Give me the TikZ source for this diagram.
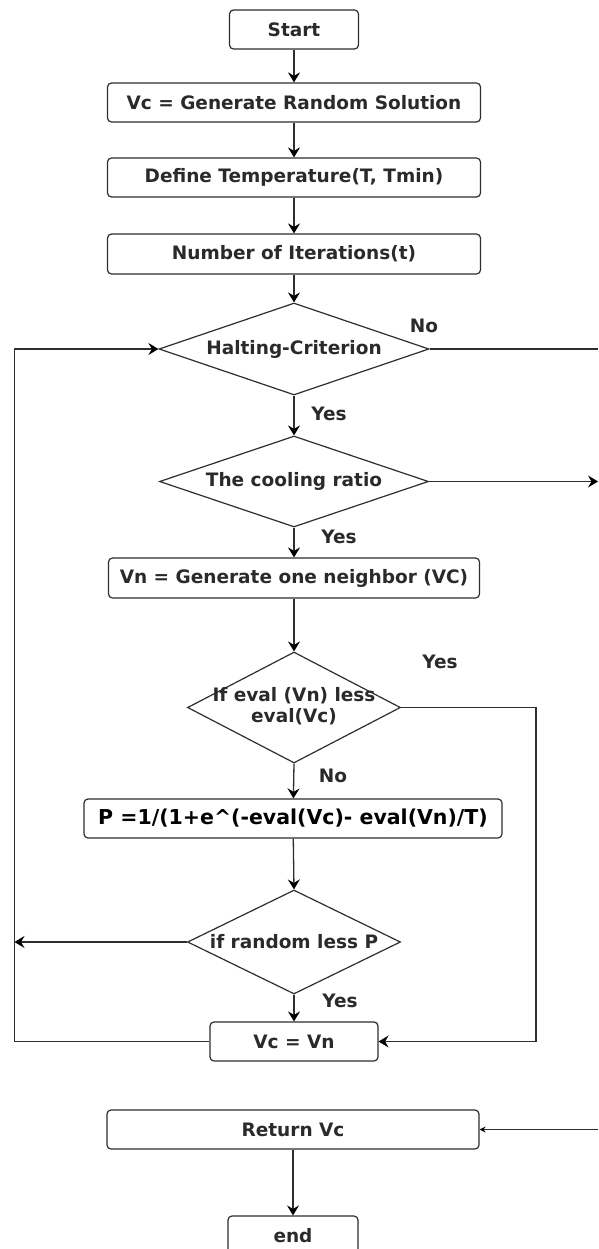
\documentclass[tikz,border=0pt]{standalone}
\usepackage{fontspec}
\setmainfont{DejaVu Sans}
\usetikzlibrary{shapes.geometric,arrows.meta}
\definecolor{linec}{HTML}{2E2E2E}
\definecolor{txt}{HTML}{2A2A2A}
\begin{document}
\begin{tikzpicture}[x=1pt,y=-1pt,
  every node/.style={inner sep=0pt},
  procbox/.style={draw=linec, line width=1.2pt, rounded corners=4pt, fill=white,
    minimum height=39pt, text=txt, font=\fontsize{18.5}{21}\selectfont\bfseries},
  decision/.style={diamond, draw=linec, line width=1.2pt, fill=white},
  dtext/.style={text=txt, font=\fontsize{18.5}{21}\selectfont\bfseries, align=center},
  elabel/.style={text=txt, font=\fontsize{18.5}{21}\selectfont\bfseries},
  flow/.style={draw=linec, line width=1.3pt, -{Stealth[length=10pt,width=12pt,inset=3.5pt,color=black]}},
  plain/.style={draw=linec, line width=1.3pt}
]
\useasboundingbox (0,0) rectangle (598,1249);
\fill[white] (0,0) rectangle (598,1249);

% process boxes
\node[procbox, minimum width=129pt] (start) at (294,29.5) {Start};
\node[procbox, minimum width=373pt] (vc) at (294,102.5) {Vc = Generate Random Solution};
\node[procbox, minimum width=373pt] (def) at (294,177.5) {Define Temperature(T, Tmin)};
\node[procbox, minimum width=373pt, minimum height=40pt] (num) at (294,254) {Number of Iterations(t)};

% decisions
\node[decision, minimum width=270pt, minimum height=92pt] (halt) at (294,349) {};
\node[dtext] (haltt) at (halt.center) {Halting-Criterion};
\node[decision, minimum width=269pt, minimum height=91pt] (cool) at (294,481.5) {};
\node[dtext] (coolt) at (cool.center) {The cooling ratio};

\node[procbox, minimum width=371pt, minimum height=40pt] (vn) at (294,578) {Vn = Generate one neighbor (VC)};

\node[decision, minimum width=213pt, minimum height=111pt] (eval) at (294,707.5) {};
\node[dtext] (evalt) at (294,706) {If eval (Vn) less\\eval(Vc)};

\node[procbox, minimum width=418pt, text=black, font=\fontsize{20.5}{23}\selectfont\bfseries] (p) at (293,818.5) {P =1/(1+e\^{}(-eval(Vc)- eval(Vn)/T)};

\node[decision, minimum width=213pt, minimum height=104pt] (rand) at (294,942) {};
\node[dtext] (randt) at (rand.center) {if random less P};

\node[procbox, minimum width=168pt] (vcvn) at (294,1041.5) {Vc = Vn};
\node[procbox, minimum width=372pt] (ret) at (293,1129.5) {Return Vc};
\node[procbox, minimum width=130pt] (end) at (293,1235.5) {end};

% helper coordinates
\coordinate (lb) at (14.5,1041.5);
\coordinate (lt) at (14.5,349);
\coordinate (lr) at (14.5,942);
\coordinate (hr) at (598,349);
\coordinate (cr) at (598,481.5);
\coordinate (er) at (536,707.5);
\coordinate (erb) at (536,1041.5);
\coordinate (rr) at (598,1129.5);

% main flow
\draw[flow] (start) -- (vc);
\draw[flow] (vc) -- (def);
\draw[flow] (def) -- (num);
\draw[flow] (num) -- (halt.north);
\draw[flow] (halt.south) -- (cool.north);
\draw[flow] (cool.south) -- (vn);
\draw[flow] (vn) -- (eval.north);
\draw[flow] (eval.south) -- (p);
\draw[flow] (p) -- (rand.north);
\draw[flow] (rand.south) -- (vcvn);
\draw[flow] (ret) -- (end);

% side connectors
\draw[plain] (halt.east) -- (hr);
\draw[flow] (cool.east) -- (cr);
\draw[flow] (eval.east) -- (er) -- (erb) -- (vcvn.east);
\draw[flow] (rand.west) -- (lr);
\draw[flow] (vcvn.west) -- (lb) -- (lt) -- (halt.west);
\draw[draw=linec, line width=1.3pt, -{Stealth[length=6pt,width=6pt,inset=2pt,color=black]}] (rr) -- (ret.east);

% labels
\node[elabel] (lno1) at (424,326) {No};
\node[elabel] (lyes1) at (329,414) {Yes};
\node[elabel] (lyes2) at (339,537) {Yes};
\node[elabel] (lyes3) at (440,662) {Yes};
\node[elabel] (lno2) at (333,776) {No};
\node[elabel] (lyes4) at (340,1001) {Yes};
\end{tikzpicture}
\end{document}
